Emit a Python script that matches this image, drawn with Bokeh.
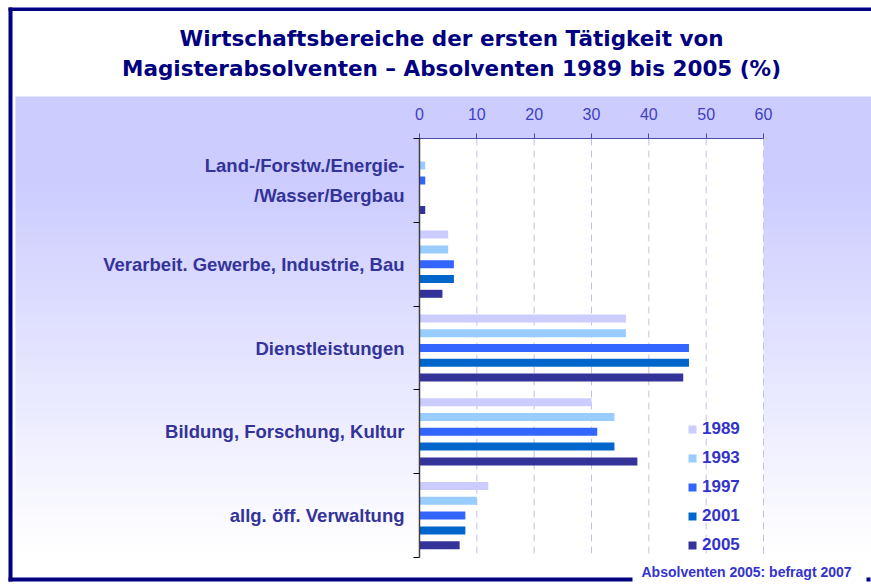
import numpy as np
from bokeh.plotting import figure
from bokeh.models import Range1d, LinearAxis, FixedTicker, Legend, LegendItem, ColumnDataSource
from bokeh.transform import dodge
from bokeh.core.properties import value
from bokeh.embed import file_html
from bokeh.resources import INLINE

# ---------------- data ----------------
categories = ["Land-/Forstw./Energie-\n/Wasser/Bergbau",
              "Verarbeit. Gewerbe, Industrie, Bau",
              "Dienstleistungen",
              "Bildung, Forschung, Kultur",
              "allg. öff. Verwaltung"]
years = ["1989", "1993", "1997", "2001", "2005"]
v1989 = [0, 5, 36, 30, 12]
v1993 = [1, 5, 36, 34, 10]
v1997 = [1, 6, 47, 31, 8]
v2001 = [0, 6, 47, 34, 8]
v2005 = [1, 4, 46, 38, 7]
x_ticks = [0, 10, 20, 30, 40, 50, 60]
title_lines = ["Wirtschaftsbereiche der ersten Tätigkeit von",
               "Magisterabsolventen – Absolventen 1989 bis 2005 (%)"]
footer = "Absolventen 2005: befragt 2007"
colors = ["#ccccff", "#99ccff", "#3366ff", "#0066cc", "#333399"]

# ---------------- layout (page pixels) ----------------
W, H = 871, 584
OFF = 0
PX0, PX60 = 419, 763
PY0, PY5 = 138, 557
ncat = len(categories)
xmax = x_ticks[-1]


def X(px):
    return (px - PX0) * xmax / (PX60 - PX0)


def Y(py):
    return (py - PY0) * ncat / (PY5 - PY0)


py_per_unit = (PY5 - PY0) / ncat
pitch = 14.8 / py_per_unit
bar_h = 8.0 / py_per_unit

p = figure(width=W, height=H,
           x_range=Range1d(X(OFF), X(OFF + W)),
           y_range=Range1d(Y(OFF + H), Y(OFF)),
           x_axis_type=None, y_axis_type=None,
           output_backend="svg", toolbar_location=None, title=None,
           min_border=0, min_border_left=0, min_border_right=0,
           min_border_top=0, min_border_bottom=0)
p.background_fill_color = "white"
p.border_fill_color = "white"
p.outline_line_color = None

# gradient band
step = 3
ys = np.arange(96, OFF + H, step)
t = np.clip((ys - 175) / (550 - 175), 0, 1)
r = (204 + 51 * t).astype(int)
band_colors = ["#%02x%02x%02x" % (ri, ri, 255) for ri in r]
p.quad(left=X(15), right=X(OFF + W), top=[Y(v) for v in ys],
       bottom=[Y(v + step + 0.6) for v in ys],
       fill_color=band_colors, line_color=None)

# white plot area
p.quad(left=[x_ticks[0]], right=[xmax], top=[0], bottom=[ncat],
       fill_color="white", line_color=None)

# dashed grid lines
p.segment(x0=x_ticks[1:], y0=0, x1=x_ticks[1:], y1=ncat,
          line_color="#c0c0f0", line_width=1, line_dash="7 5")

# frame border
navy = "#000080"
p.quad(left=[X(8), X(8), X(8), X(866)],
       right=[X(OFF + W), X(12), X(632), X(870)],
       top=[Y(7), Y(7), Y(577), Y(577)],
       bottom=[Y(10.5), Y(581), Y(581), Y(581)],
       fill_color=navy, line_color=None)

# bars
src = ColumnDataSource(dict(y=np.arange(ncat) + 0.5,
                            v1989=v1989, v1993=v1993, v1997=v1997,
                            v2001=v2001, v2005=v2005))
items = []
for j, yr in enumerate(years):
    rr = p.hbar(y=dodge("y", (j - 2) * pitch), left=0, right="v" + yr,
                height=bar_h, fill_color=colors[j], line_color=None, source=src)
    items.append(LegendItem(label=yr, renderers=[rr]))

# title
p.text(x=[X(451), X(451)], y=[Y(38), Y(68)], text=title_lines,
       text_font=value("DejaVu Sans"), text_font_style="bold",
       text_font_size="21.5px", text_color=navy,
       text_align="center", text_baseline="alphabetic")

# footer
p.text(x=[X(641)], y=[Y(571)], text=[footer],
       text_font=value("Liberation Sans"), text_font_style="bold",
       text_font_size="14px", text_color="#3333cc",
       text_align="left", text_baseline="alphabetic")

# top axis
top = LinearAxis(ticker=FixedTicker(ticks=x_ticks), fixed_location=0,
                 bounds=(x_ticks[0], xmax))
top.axis_line_color = "#4b4ba5"
top.major_tick_line_color = "#4b4ba5"
top.major_tick_out = 5
top.major_tick_in = 0
top.minor_tick_out = 0
top.minor_tick_in = 0
top.major_label_standoff = 14
top.major_label_text_font = "Liberation Sans"
top.major_label_text_font_size = "16px"
top.major_label_text_color = "#4040c0"
p.add_layout(top, "above")

# left axis: labels at category centres, boundary ticks as minor ticks
centers = [i + 0.5 for i in range(ncat)]
bounds_ticks = list(range(ncat + 1))
left = LinearAxis(ticker=FixedTicker(ticks=centers, minor_ticks=bounds_ticks),
                  fixed_location=0, bounds=(0, ncat),
                  major_label_overrides={c: cat for c, cat in zip(centers, categories)})
left.axis_line_color = "#404040"
left.axis_line_width = 1.5
left.major_tick_out = 0
left.major_tick_in = 0
left.minor_tick_out = 6
left.minor_tick_in = 0
left.minor_tick_line_color = "black"
left.major_label_standoff = 9
left.major_label_text_font = "Liberation Sans"
left.major_label_text_font_style = "bold"
left.major_label_text_font_size = "18.5px"
left.major_label_text_color = "#333399"
left.major_label_text_line_height = 1.4
p.add_layout(left, "left")

# legend
legend = Legend(items=items, location=(687 - OFF, OFF + H - 555),
                padding=0, margin=0, spacing=9,
                glyph_width=10, glyph_height=10, label_height=20,
                label_standoff=5, border_line_color=None,
                background_fill_alpha=0,
                label_text_font="Liberation Sans", label_text_font_style="bold",
                label_text_font_size="17px", label_text_color="#3333cc")
p.add_layout(legend)

open("out.html", "w").write(file_html(p, INLINE))
